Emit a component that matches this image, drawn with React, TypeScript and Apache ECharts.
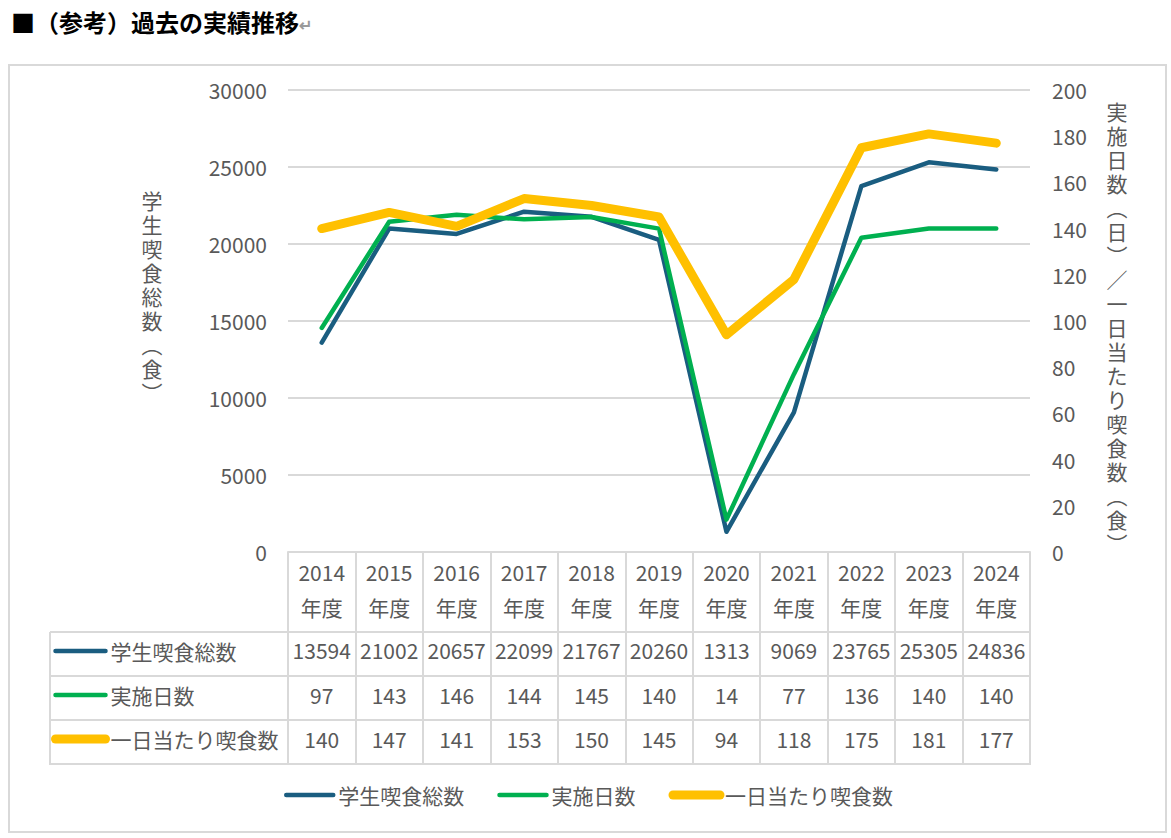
import React, { useEffect, useRef } from 'react';
import * as echarts from 'echarts';

const years = ['2014', '2015', '2016', '2017', '2018', '2019', '2020', '2021', '2022', '2023', '2024'];
const categoryLabels = years.map((y) => `${y}\n年度`);
const totalMeals = [13594, 21002, 20657, 22099, 21767, 20260, 1313, 9069, 23765, 25305, 24836];
const serviceDays = [97, 143, 146, 144, 145, 140, 14, 77, 136, 140, 140];
const mealsPerDay = [140, 147, 141, 153, 150, 145, 94, 118, 175, 181, 177];
const seriesNames = ['学生喫食総数', '実施日数', '一日当たり喫食数'];
const seriesColors = ['#1A5D80', '#00B050', '#FFC000'];
const leftAxisName = ['学', '生', '喫', '食', '総', '数', '︵', '食', '︶'];
const rightAxisName = ['実', '施', '日', '数', '︵', '日', '︶', '／', '一', '日', '当', 'た', 'り', '喫', '食', '数', '︵', '食', '︶'];
const titleText = '■（参考）過去の実績推移';

const FONT = '"Noto Sans CJK JP", "Noto Sans", sans-serif';
const TEXT = '#595959';
const LINE = '#d9d9d9';

const W = 1171;
const H = 838;
const GRID_L = 288;
const GRID_R = 1030;
const GRID_T = 90;
const GRID_B = 552;
const TABLE_LEFT = 50;
const ROW_LINES = [632, 676, 720, 764];

export default function App() {
  const ref = useRef<HTMLDivElement>(null);

  useEffect(() => {
    if (!ref.current) return;
    const chart = echarts.init(ref.current, null, { renderer: 'svg' });

    const rowAxis = (values: number[], margin: number, idx: number) => ({
      type: 'category',
      gridIndex: 0,
      position: 'bottom',
      data: values.map(String),
      axisLine: { show: false },
      axisTick: { show: false },
      splitLine: { show: false },
      axisLabel: {
        interval: 0,
        margin,
        fontSize: 21,
        lineHeight: 24,
        color: TEXT,
        fontFamily: FONT,
      },
      id: 'row' + idx,
    });

    const tableLines: any[] = ROW_LINES.map((y) => ({
      type: 'line',
      shape: { x1: TABLE_LEFT, y1: y, x2: GRID_R + 1, y2: y },
      style: { stroke: LINE, lineWidth: 2 },
      silent: true,
    }));
    tableLines.push({
      type: 'line',
      shape: { x1: TABLE_LEFT, y1: ROW_LINES[0], x2: TABLE_LEFT, y2: ROW_LINES[ROW_LINES.length - 1] + 1 },
      style: { stroke: LINE, lineWidth: 2 },
      silent: true,
    });

    const legendCommon = {
      data: seriesNames,
      selectedMode: false,
      itemHeight: 24,
      itemStyle: { opacity: 0 },
      lineStyle: { width: 'inherit', opacity: 1, cap: 'round' },
      textStyle: { fontSize: 21, lineHeight: 24, color: TEXT, fontFamily: FONT },
    };

    chart.setOption({
      animation: false,
      backgroundColor: '#ffffff',
      textStyle: { fontFamily: FONT },
      title: {
        text: `{a|${titleText}}{b|↵}`,
        left: 6,
        top: 4,
        textStyle: {
          rich: {
            a: { fontSize: 24, fontWeight: 'bold', color: '#000000', fontFamily: FONT },
            b: { fontSize: 16, color: '#9a9a9a', fontFamily: FONT, padding: [6, 0, 0, 0] },
          },
        },
      },
      grid: {
        left: GRID_L,
        right: W - GRID_R,
        top: GRID_T,
        bottom: H - GRID_B,
        containLabel: false,
      },
      legend: [
        {
          ...legendCommon,
          left: 279,
          top: 778,
          itemWidth: 47,
          itemGap: 33,
        },
        {
          ...legendCommon,
          orient: 'vertical',
          left: 51,
          top: 639,
          itemWidth: 50,
          itemGap: 20,
          padding: 0,
        },
      ],
      xAxis: [
        {
          type: 'category',
          data: categoryLabels,
          boundaryGap: true,
          axisLine: { show: true, lineStyle: { color: LINE, width: 2 } },
          axisTick: { show: true, length: ROW_LINES[ROW_LINES.length - 1] - GRID_B, lineStyle: { color: LINE, width: 2 } },
          axisLabel: {
            interval: 0,
            margin: 2,
            fontSize: 21,
            lineHeight: 35,
            color: TEXT,
            fontFamily: FONT,
          },
        },
        rowAxis(totalMeals, 86, 1),
        rowAxis(serviceDays, 131, 2),
        rowAxis(mealsPerDay, 175, 3),
      ],
      yAxis: [
        {
          type: 'value',
          min: 0,
          max: 30000,
          interval: 5000,
          axisLine: { show: false },
          axisTick: { show: false },
          splitLine: { show: true, lineStyle: { color: LINE, width: 2 } },
          axisLabel: { fontSize: 21, color: TEXT, margin: 21, fontFamily: FONT, formatter: (v: number) => String(v) },
        },
        {
          type: 'value',
          min: 0,
          max: 200,
          interval: 20,
          position: 'right',
          axisLine: { show: false },
          axisTick: { show: false },
          splitLine: { show: false },
          axisLabel: { fontSize: 21, color: TEXT, margin: 22, fontFamily: FONT, formatter: (v: number) => String(v) },
        },
      ],
      series: [
        {
          name: seriesNames[0],
          type: 'line',
          data: totalMeals,
          xAxisIndex: 0,
          yAxisIndex: 0,
          symbol: 'none',
          color: seriesColors[0],
          lineStyle: { width: 4.5, color: seriesColors[0], cap: 'round', join: 'round' },
        },
        {
          name: seriesNames[1],
          type: 'line',
          data: serviceDays,
          xAxisIndex: 0,
          yAxisIndex: 1,
          symbol: 'none',
          color: seriesColors[1],
          lineStyle: { width: 4.5, color: seriesColors[1], cap: 'round', join: 'round' },
        },
        {
          name: seriesNames[2],
          type: 'line',
          data: mealsPerDay,
          xAxisIndex: 0,
          yAxisIndex: 1,
          symbol: 'none',
          color: seriesColors[2],
          lineStyle: { width: 9, color: seriesColors[2], cap: 'round', join: 'round' },
        },
      ],
      graphic: [
        {
          type: 'rect',
          shape: { x: 9, y: 65, width: 1157, height: 767 },
          style: { fill: 'none', stroke: LINE, lineWidth: 2 },
          silent: true,
          z: -10,
        },
        ...tableLines,
        {
          type: 'text',
          x: 152,
          y: 296,
          style: {
            text: leftAxisName.join('\n'),
            font: `21px ${FONT}`,
            fill: TEXT,
            lineHeight: 24,
            textAlign: 'center',
            textVerticalAlign: 'middle',
          },
          silent: true,
        },
        {
          type: 'text',
          x: 1117,
          y: 327,
          style: {
            text: rightAxisName.join('\n'),
            font: `21px ${FONT}`,
            fill: TEXT,
            lineHeight: 24,
            textAlign: 'center',
            textVerticalAlign: 'middle',
          },
          silent: true,
        },
      ],
    });

    return () => {
      chart.dispose();
    };
  }, []);

  return (
    <div
      ref={ref}
      style={{ position: 'absolute', left: 0, top: 0, width: W, height: H, background: '#ffffff' }}
    />
  );
}
